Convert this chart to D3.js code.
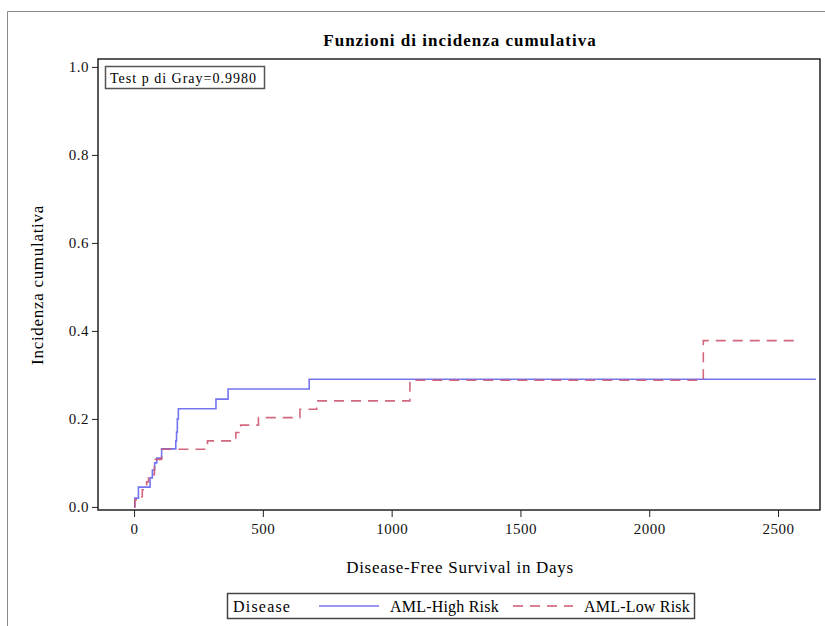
<!DOCTYPE html>
<html>
<head>
<meta charset="utf-8">
<script src="https://cdn.jsdelivr.net/npm/d3@7"></script>
<style>
  body { margin: 0; background: #fff; }
  svg { display: block; font-family: "Liberation Serif", "Times New Roman", serif; }
</style>
</head>
<body>
<div id="chart"></div>
<script>
// step data: [day, cumulative incidence]
const highRiskDays = [0, 3, 17, 62, 71, 80, 88, 107, 162, 165, 168, 172, 318, 365, 680, 2647];
const highRiskVals = [0, 0.02, 0.045, 0.066, 0.084, 0.10, 0.111, 0.132, 0.15, 0.17, 0.20, 0.223, 0.245, 0.268, 0.290, 0.290];
const lowRiskDays = [0, 3, 17, 32, 49, 56, 79, 107, 285, 395, 414, 483, 644, 709, 1071, 2210, 2578];
const lowRiskVals = [0, 0.016, 0.023, 0.039, 0.057, 0.073, 0.108, 0.131, 0.150, 0.169, 0.186, 0.203, 0.222, 0.241, 0.288, 0.378, 0.378];
const xTicks = [0, 500, 1000, 1500, 2000, 2500];
const yTicks = [0, 0.2, 0.4, 0.6, 0.8, 1.0];
const seriesNames = ["AML-High Risk", "AML-Low Risk"];

const W = 825, H = 626;
const margin = { top: 59, right: 5, bottom: 116, left: 98 };
const w = W - margin.left - margin.right;
const h = H - margin.top - margin.bottom;

const svg = d3.select("#chart").append("svg").attr("width", W).attr("height", H);

// outer frame
svg.append("path")
  .attr("d", `M7.5,${H}V11.5H${W}`)
  .attr("fill", "none")
  .attr("stroke", "#8a8a8a")
  .attr("stroke-width", 1);

svg.append("text")
  .attr("x", 460)
  .attr("y", 46)
  .attr("text-anchor", "middle")
  .attr("font-size", 17)
  .attr("font-weight", "bold")
  .attr("letter-spacing", 1)
  .text("Funzioni di incidenza cumulativa");

const x = d3.scaleLinear().domain([-140, 2663]).range([0, w]);
const y = d3.scaleLinear().domain([-0.007, 1.018]).range([h, 0]);

const g = svg.append("g").attr("transform", `translate(${margin.left},${margin.top})`);

const xAxis = g.append("g")
  .attr("transform", `translate(0,${h})`)
  .call(d3.axisBottom(x).tickValues(xTicks).tickSize(7).tickPadding(6).tickFormat(d3.format("d")));
const yAxis = g.append("g")
  .call(d3.axisLeft(y).tickValues(yTicks).tickSize(6).tickPadding(3).tickFormat(d3.format(".1f")));

[xAxis, yAxis].forEach(a => {
  a.select(".domain").remove();
  a.selectAll("line").attr("stroke", "#222");
  a.selectAll("text").attr("font-size", 15).attr("fill", "#111")
    .attr("letter-spacing", 0.5)
    .attr("font-family", "'Liberation Serif', serif");
});

g.append("rect")
  .attr("x", 0).attr("y", 0).attr("width", w).attr("height", h)
  .attr("fill", "none").attr("stroke", "#222").attr("stroke-width", 1.5);

const line = d3.line()
  .x(d => x(d[0]))
  .y(d => y(d[1]))
  .curve(d3.curveStepAfter);

const highRisk = d3.zip(highRiskDays, highRiskVals);
const lowRisk = d3.zip(lowRiskDays, lowRiskVals);

g.append("path")
  .datum(highRisk)
  .attr("d", line)
  .attr("fill", "none")
  .attr("stroke", "#7474ee")
  .attr("stroke-width", 1.6);

g.append("path")
  .datum(lowRisk)
  .attr("d", line)
  .attr("fill", "none")
  .attr("stroke", "#cc5870")
  .attr("stroke-opacity", 0.9)
  .attr("stroke-width", 1.6)
  .attr("stroke-dasharray", "10,7");

// test box
g.append("rect")
  .attr("x", 7.5).attr("y", 7.5).attr("width", 159).attr("height", 22)
  .attr("fill", "#fff").attr("stroke", "#555").attr("stroke-width", 1.5);
g.append("text")
  .attr("x", 12).attr("y", 23.5)
  .attr("font-size", 14)
  .attr("letter-spacing", 1)
  .text("Test p di Gray=0.9980");

// axis labels
svg.append("text")
  .attr("x", 460)
  .attr("y", 573)
  .attr("text-anchor", "middle")
  .attr("font-size", 17)
  .attr("letter-spacing", 0.7)
  .text("Disease-Free Survival in Days");

svg.append("text")
  .attr("transform", "translate(43,285) rotate(-90)")
  .attr("text-anchor", "middle")
  .attr("font-size", 17)
  .attr("letter-spacing", 0.7)
  .text("Incidenza cumulativa");

// legend
const lg = svg.append("g").attr("transform", "translate(227,593)");
lg.append("rect")
  .attr("x", 0.5).attr("y", 0.5).attr("width", 467).attr("height", 25)
  .attr("fill", "#fff").attr("stroke", "#444").attr("stroke-width", 1.5);
lg.append("text").attr("x", 6).attr("y", 18.5).attr("font-size", 16)
  .attr("letter-spacing", 1.2).text("Disease");
const items = [
  { name: seriesNames[0], color: "#7474ee", dash: null, x0: 92 },
  { name: seriesNames[1], color: "#cc5870", dash: "10,7", x0: 286 }
];
items.forEach(it => {
  lg.append("line")
    .attr("x1", it.x0).attr("x2", it.x0 + 60)
    .attr("y1", 13).attr("y2", 13)
    .attr("stroke", it.color).attr("stroke-width", 1.6)
    .attr("stroke-dasharray", it.dash);
  lg.append("text").attr("x", it.x0 + 71).attr("y", 18.5).attr("font-size", 16)
    .attr("letter-spacing", 0.2).text(it.name);
});
</script>
</body>
</html>
